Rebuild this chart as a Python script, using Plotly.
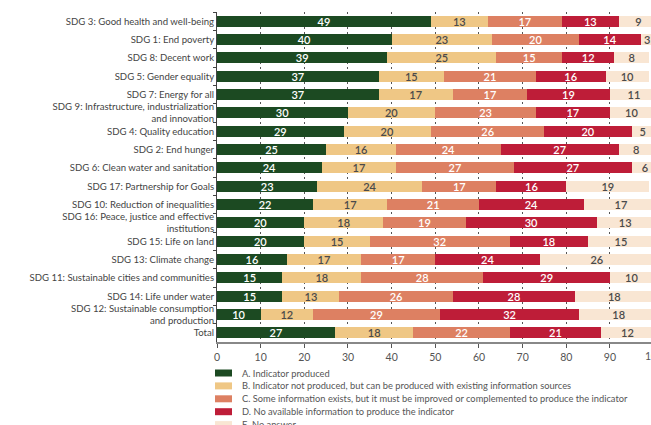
import plotly.graph_objects as go

categories = [
    "SDG 3: Good health and well-being",
    "SDG 1: End poverty",
    "SDG 8: Decent work",
    "SDG 5: Gender equality",
    "SDG 7: Energy for all",
    "SDG 9: Infrastructure, industrialization<br>and innovation",
    "SDG 4: Quality education",
    "SDG 2: End hunger",
    "SDG 6: Clean water and sanitation",
    "SDG 17: Partnership for Goals",
    "SDG 10: Reduction of inequalities",
    "SDG 16: Peace, justice and effective<br>institutions",
    "SDG 15: Life on land",
    "SDG 13: Climate change",
    "SDG 11: Sustainable cities and communities",
    "SDG 14: Life under water",
    "SDG 12: Sustainable consumption<br>and production",
    "Total",
]

a_produced = [49, 40, 39, 37, 37, 30, 29, 25, 24, 23, 22, 20, 20, 16, 15, 15, 10, 27]
b_can_produce = [13, 23, 25, 15, 17, 20, 20, 16, 17, 24, 17, 18, 15, 17, 18, 13, 12, 18]
c_improve = [17, 20, 15, 21, 17, 23, 26, 24, 27, 17, 21, 19, 32, 17, 28, 26, 29, 22]
d_no_info = [13, 14, 12, 16, 19, 17, 20, 27, 27, 16, 24, 30, 18, 24, 29, 28, 32, 21]
e_no_answer = [9, 3, 8, 10, 11, 10, 5, 8, 6, 19, 17, 13, 15, 26, 10, 18, 18, 12]

series_names = [
    "A. Indicator produced",
    "B. Indicator not produced, but can be produced with existing information sources",
    "C. Some information exists, but it must be improved or complemented to produce the indicator",
    "D. No available information to produce the indicator",
    "E. No answer",
]
series_values = [a_produced, b_can_produce, c_improve, d_no_info, e_no_answer]
colors = ["#1c4a22", "#efc785", "#dd8062", "#be1d38", "#f9e6d3"]
text_colors = ["#ffffff", "#4a4a4a", "#ffffff", "#ffffff", "#4a4a4a"]

x_ticks = [0, 10, 20, 30, 40, 50, 60, 70, 80, 90, 100]
XMAX = 99.4

FONT = "Lato, Roboto, sans-serif"

fig = go.Figure()
for name, vals, col, tcol in zip(series_names, series_values, colors, text_colors):
    fig.add_trace(go.Bar(
        y=categories, x=vals, name=name, orientation="h",
        marker=dict(color=col, line=dict(width=0)),
        text=[str(v) for v in vals], textposition="inside",
        insidetextanchor="middle", textangle=0,
        constraintext="none",
        textfont=dict(family=FONT, size=11, color=tcol, weight=600),
        showlegend=False,
    ))

# custom compact legend (13px rows)
PLOT_BOTTOM_PX = 342
first_center = 373
row_step = 12.9
for i, (name, col) in enumerate(zip(series_names, colors)):
    cy = -(first_center - PLOT_BOTTOM_PX) - i * row_step
    fig.add_shape(type="rect", xref="paper", yref="paper",
                  xsizemode="pixel", ysizemode="pixel", xanchor=0, yanchor=0,
                  x0=-2, x1=15, y0=cy - 3.5, y1=cy + 3.5,
                  fillcolor=col, line=dict(width=0))
    fig.add_annotation(text=name, xref="paper", yref="paper", x=0, y=0,
                       xanchor="left", yanchor="middle", xshift=23, yshift=cy,
                       showarrow=False, font=dict(family=FONT, size=9.3, color="#555555"))

# cut-off "100" tick label
fig.add_annotation(text=str(x_ticks[-1]), xref="paper", yref="paper", x=x_ticks[-1] / XMAX, y=0,
                   xanchor="center", yanchor="top", yshift=-6, showarrow=False,
                   font=dict(family=FONT, size=10.5, color="#555555"))

fig.update_layout(
    width=651, height=425,
    barmode="stack", bargap=0.4,
    plot_bgcolor="white", paper_bgcolor="white",
    margin=dict(l=217, r=0, t=12, b=83),
    font=dict(family=FONT, size=9.6, color="#444444"),
    uniformtext=dict(minsize=9, mode="show"),
    xaxis=dict(range=[0, XMAX], tickvals=x_ticks[:-1], automargin=False,
               showgrid=True, gridcolor="#555555", gridwidth=1, griddash="2px,3px",
               showline=True, linecolor="#888888", linewidth=2,
               ticks="outside", ticklen=4, tickcolor="#555555",
               tickfont=dict(family=FONT, size=10.5, color="#555555"), zeroline=False),
    yaxis=dict(autorange="reversed", showline=True, linecolor="#444444", linewidth=1,
               ticks="outside", ticklen=3, tickcolor="#444444", tickson="boundaries",
               automargin=False, tickfont=dict(family=FONT, size=9.6, color="#444444"),
               showgrid=False),
)

fig.write_html("out.html", config={"displayModeBar": False},
               post_script="document.body.style.margin='0';")
